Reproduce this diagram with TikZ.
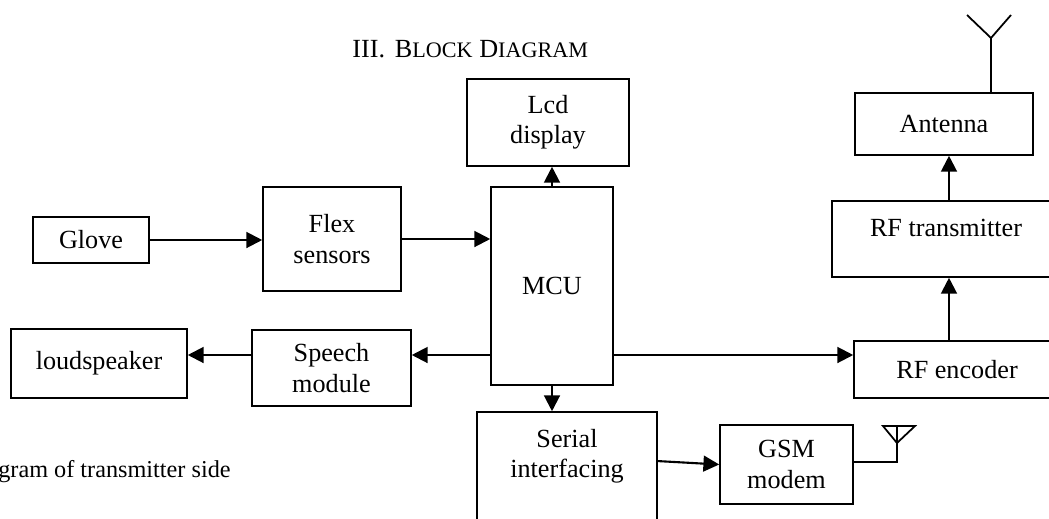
\documentclass[tikz,border=0pt]{standalone}
\usepackage{fontspec}
\setmainfont{Liberation Serif}
\usetikzlibrary{arrows.meta,calc}

\newcommand\boxfont{\fontsize{14.9}{17.2}\selectfont}
\newcommand\scfont{\fontsize{12.6}{14}\selectfont}
\tikzset{
	blk/.style={draw, line width=0.9pt, align=center, inner sep=2pt, font=\boxfont},
	txt/.style={align=center, inner sep=0pt, font=\boxfont},
	flow/.style={line width=1.2pt, -{Triangle[length=9pt,width=9pt]}},
	wire/.style={line width=1pt},
}

\begin{document}
\begin{tikzpicture}[x=0.02cm,y=-0.02cm]
	\useasboundingbox (0,0) rectangle (1049,518);

	\node[txt, anchor=base west] (title) at (352,57) {III.\hspace{0.38em}B{\scfont LOCK} D{\scfont IAGRAM}};

	% input side
	\node[blk, minimum width=2.32cm, minimum height=0.92cm] (glove) at (91,240) {Glove};
	\node[blk, minimum width=2.76cm, minimum height=2.08cm] (flex) at (332,239) {Flex\\sensors};
	\node[blk, minimum width=2.44cm, minimum height=3.96cm] (mcu) at (552,286) {MCU};
	\node[blk, minimum width=3.24cm, minimum height=1.74cm] (lcd) at (548,122.5) {Lcd\\display};

	% output side
	\node[blk, minimum width=3.18cm, minimum height=1.52cm] (speech) at (331.5,368) {Speech\\module};
	\node[blk, minimum width=3.52cm, minimum height=1.38cm] (speaker) at (99,363.5) {loudspeaker};
	\node[blk, minimum width=3.6cm, minimum height=2.56cm] (serial) at (567,476) {};
	\node[txt, anchor=base] (serialtxt) at (567,447) {Serial};
	\node[txt, anchor=base] (serialtxt2) at (567,477) {interfacing};
	\node[blk, minimum width=2.66cm, minimum height=1.58cm] (gsm) at (786.5,464.5) {GSM\\modem};

	% rf chain
	\node[blk, minimum width=4.12cm, minimum height=1.14cm] (rfenc) at (957,369.5) {RF encoder};
	\node[blk, minimum width=4.56cm, minimum height=1.52cm] (rftx) at (946,239) {};
	\node[txt, anchor=base] (rftxtxt) at (946,236) {RF transmitter};
	\node[blk, minimum width=3.56cm, minimum height=1.24cm] (antenna) at (944,124) {Antenna};

	\node[txt, anchor=base west, font=\fontsize{13.8}{16}\selectfont] (caption) at (-2,477) {gram of transmitter side};

	% connectors
	\coordinate (row) at (0,355);
	\coordinate (col) at (949,0);
	\draw[flow] (glove.east) -- (flex.west |- glove.east);
	\draw[flow] (flex.east) -- (mcu.west |- flex.east);
	\draw[flow] (mcu.north) -- (lcd.south -| mcu.north);
	\draw[flow] (mcu.south) -- (serial.north -| mcu.south);
	\draw[flow] (mcu.west |- row) -- (speech.east |- row);
	\draw[flow] (speech.west |- row) -- (speaker.east |- row);
	\draw[flow] (mcu.east |- row) -- (rfenc.west |- row);
	\draw[flow] (rfenc.north -| col) -- (rftx.south -| col);
	\draw[flow] (rftx.north -| col) -- (antenna.south -| col);
	\draw[flow] ([yshift=8.5pt]serial.east) -- (gsm.west);

	% aerials
	\draw[wire] (antenna.north -| 991,0) -- (991,38) coordinate (tip) -- (967,15) (tip) -- (1011,15);
	\draw[wire] (gsm.east |- 0,462) -| (897,426);
	\draw[wire] (883,426) -- (915,426) -- (897,443) -- cycle;
\end{tikzpicture}
\end{document}
